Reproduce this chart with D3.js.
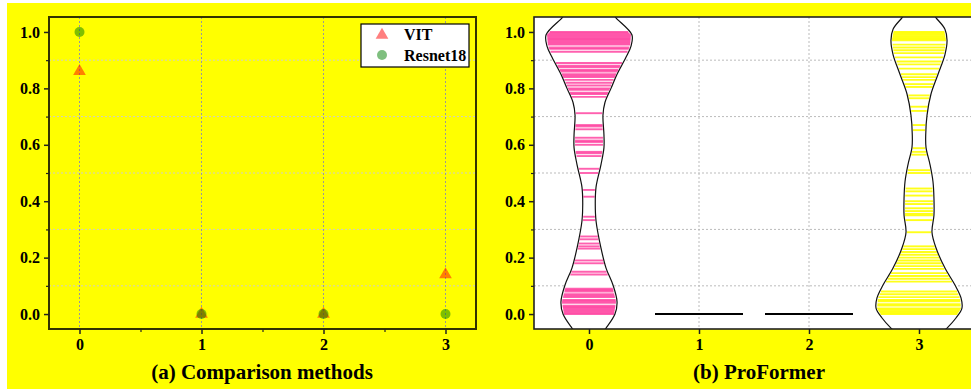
<!DOCTYPE html>
<html>
<head>
<meta charset="utf-8">
<script src="https://cdn.jsdelivr.net/npm/d3@7"></script>
<style>
  body { margin: 0; background: #fff; }
  svg { display: block; }
  text { font-family: "Liberation Serif", "Times New Roman", serif; font-weight: bold; fill: #000; }
</style>
</head>
<body>
<div id="chart"></div>
<script>
// ---- data ----
const categories = [0, 1, 2, 3];
const vitValues = [0.86, 0, 0, 0.14];
const resnetValues = [1.0, 0, 0, 0];
const yTicks = [0, 0.2, 0.4, 0.6, 0.8, 1.0];
const yMinor = [0.1, 0.3, 0.5, 0.7, 0.9];
const xMinor = [0.5, 1.5, 2.5];

// ProFormer sample values (the sticks) per category
const proformer0 = [1.0, 0.995, 0.99, 0.985, 0.98, 0.975, 0.97, 0.965, 0.96, 0.955, 0.945, 0.94, 0.93,
  0.89, 0.88, 0.875, 0.865, 0.86, 0.85, 0.845, 0.84, 0.83, 0.82, 0.81, 0.8, 0.795, 0.785, 0.78, 0.77,
  0.712, 0.67, 0.665, 0.655, 0.625, 0.615, 0.61, 0.6, 0.575, 0.57, 0.56, 0.515, 0.5, 0.44, 0.416,
  0.345, 0.333, 0.275, 0.265, 0.25, 0.24, 0.232, 0.19, 0.18, 0.15, 0.14,
  0.09, 0.085, 0.08, 0.07, 0.065, 0.06, 0.05, 0.045, 0.04, 0.03, 0.025, 0.02, 0.015, 0.01, 0.005, 0.0];
const proformer1 = [0, 0, 0, 0];
const proformer2 = [0, 0, 0, 0];
const proformer3 = [1.0, 0.995, 0.99, 0.985, 0.98, 0.975, 0.97, 0.955, 0.945, 0.935, 0.925, 0.91, 0.895,
  0.885, 0.87, 0.85, 0.84, 0.83, 0.815, 0.805, 0.775, 0.765, 0.735, 0.72, 0.67, 0.652, 0.588, 0.575, 0.565,
  0.51, 0.5, 0.445, 0.435, 0.42, 0.4, 0.39, 0.375, 0.365, 0.355, 0.35, 0.333, 0.29, 0.24, 0.23, 0.22, 0.21,
  0.2, 0.19, 0.18, 0.17, 0.16, 0.145, 0.135, 0.125, 0.115, 0.08, 0.07, 0.06, 0.05, 0.045, 0.035, 0.03,
  0.02, 0.015, 0.01, 0.005, 0.0];

// violin outlines: [value, half width in category units]
const profile0 = [[-0.06, 0.136], [-0.05, 0.155], [0.0, 0.236], [0.043, 0.255], [0.103, 0.218], [0.163, 0.155],
  [0.234, 0.109], [0.33, 0.064], [0.39, 0.057], [0.45, 0.064], [0.53, 0.109], [0.59, 0.136], [0.635, 0.136],
  [0.705, 0.127], [0.75, 0.145], [0.8, 0.2], [0.85, 0.255], [0.91, 0.336], [0.95, 0.382], [0.99, 0.39],
  [1.05, 0.245], [1.06, 0.227]];
const profile3 = [[-0.06, 0.227], [-0.05, 0.255], [-0.014, 0.336], [0.02, 0.39], [0.057, 0.382], [0.103, 0.327],
  [0.163, 0.236], [0.234, 0.155], [0.29, 0.118], [0.35, 0.136], [0.41, 0.136], [0.47, 0.127], [0.53, 0.1],
  [0.59, 0.064], [0.635, 0.061], [0.705, 0.073], [0.78, 0.109], [0.85, 0.173], [0.92, 0.236], [0.97, 0.255],
  [1.01, 0.236], [1.05, 0.155], [1.06, 0.136]];

const W = 971, H = 389;
const svg = d3.select("#chart").append("svg").attr("width", W).attr("height", H);
svg.append("rect").attr("x", 7).attr("y", 3).attr("width", W - 7).attr("height", H - 3).attr("fill", "#ffff00");

const plotTop = 17, plotBottom = 329;
const y = d3.scaleLinear().domain([-0.053, 1.053]).range([plotBottom, plotTop]);

function yAxes(g, x0) {
  g.append("g").attr("transform", `translate(${x0},0)`)
    .call(d3.axisLeft(y).tickValues(yTicks).tickFormat(d3.format(".1f")).tickSize(5).tickPadding(4))
    .call(a => a.select(".domain").remove())
    .call(a => a.selectAll("text").style("font-size", "16px"))
    .call(a => a.selectAll("line").attr("stroke", "#222").attr("stroke-width", 1.5));
  g.append("g").attr("transform", `translate(${x0},0)`)
    .call(d3.axisLeft(y).tickValues(yMinor).tickFormat("").tickSize(3))
    .call(a => a.select(".domain").remove())
    .call(a => a.selectAll("line").attr("stroke", "#222").attr("stroke-width", 1.2));
}

// ---------------- (a) Comparison methods ----------------
const xL = d3.scaleLinear().domain([-0.25, 3.25]).range([49, 476]);
const gA = svg.append("g");

gA.selectAll(".hgrid").data(yMinor).join("line")
  .attr("x1", 49).attr("x2", 476).attr("y1", d => y(d)).attr("y2", d => y(d))
  .attr("stroke", "#cccccc").attr("stroke-dasharray", "2,2");
gA.selectAll(".vgrid").data(categories).join("line")
  .attr("x1", d => xL(d)).attr("x2", d => xL(d)).attr("y1", plotTop).attr("y2", plotBottom)
  .attr("stroke", "#999").attr("stroke-dasharray", "2,2");

const tri = d3.symbol().type(d3.symbolTriangle).size(70);
gA.selectAll(".vit").data(vitValues).join("path")
  .attr("d", tri).attr("transform", (d, i) => `translate(${xL(categories[i])},${y(d)})`)
  .attr("fill", "rgba(255,0,0,0.5)");
gA.selectAll(".res").data(resnetValues).join("circle")
  .attr("cx", (d, i) => xL(categories[i])).attr("cy", d => y(d)).attr("r", 5)
  .attr("fill", "rgba(0,128,0,0.5)");

gA.append("rect").attr("x", 49).attr("y", plotTop).attr("width", 476 - 49).attr("height", plotBottom - plotTop)
  .attr("fill", "none").attr("stroke", "#333300").attr("stroke-width", 2);
yAxes(gA, 49);
gA.append("g").attr("transform", `translate(0,${plotBottom})`)
  .call(d3.axisBottom(xL).tickValues(categories).tickFormat(d3.format("d")).tickSize(5).tickPadding(5))
  .call(a => a.select(".domain").remove())
  .call(a => a.selectAll("text").style("font-size", "16px"))
  .call(a => a.selectAll("line").attr("stroke", "#222").attr("stroke-width", 1.5));
gA.append("g").attr("transform", `translate(0,${plotBottom})`)
  .call(d3.axisBottom(xL).tickValues(xMinor).tickFormat("").tickSize(3))
  .call(a => a.select(".domain").remove())
  .call(a => a.selectAll("line").attr("stroke", "#222").attr("stroke-width", 1.2));

// legend
const leg = gA.append("g").attr("transform", "translate(361,24)");
leg.append("rect").attr("width", 108).attr("height", 43).attr("fill", "#fff").attr("stroke", "#000").attr("stroke-width", 1.2);
leg.append("path").attr("d", tri).attr("transform", "translate(21,11)").attr("fill", "rgba(255,0,0,0.5)");
leg.append("circle").attr("cx", 21).attr("cy", 31).attr("r", 5).attr("fill", "rgba(0,128,0,0.5)");
leg.append("text").attr("x", 43).attr("y", 16).style("font-size", "16px").text("VIT");
leg.append("text").attr("x", 43).attr("y", 36.5).style("font-size", "16px").text("Resnet18");

svg.append("text").attr("x", 262).attr("y", 379).attr("text-anchor", "middle")
  .style("font-size", "21px").text("(a) Comparison methods");

// ---------------- (b) ProFormer ----------------
const xR = d3.scaleLinear().domain([-0.5, 3.5]).range([534, 974]);
const gB = svg.append("g");
gB.append("rect").attr("x", 534).attr("y", plotTop).attr("width", 974 - 534).attr("height", plotBottom - plotTop).attr("fill", "#fff");
svg.append("clipPath").attr("id", "clipB").append("rect")
  .attr("x", 534).attr("y", plotTop).attr("width", 974 - 534).attr("height", plotBottom - plotTop);

gB.selectAll(".hgrid").data(yMinor).join("line")
  .attr("x1", 534).attr("x2", 974).attr("y1", d => y(d)).attr("y2", d => y(d))
  .attr("stroke", "#bbb").attr("stroke-dasharray", "2,2");
gB.selectAll(".vgrid").data(categories).join("line")
  .attr("x1", d => xR(d)).attr("x2", d => xR(d)).attr("y1", plotTop).attr("y2", plotBottom)
  .attr("stroke", "#bbb").attr("stroke-dasharray", "2,2");

const violins = [
  { cat: 0, values: proformer0, profile: profile0, color: "#ff3399", alpha: 0.78 },
  { cat: 1, values: proformer1, profile: null },
  { cat: 2, values: proformer2, profile: null },
  { cat: 3, values: proformer3, profile: profile3, color: "#ffff00", alpha: 0.9 }
];

const vg = gB.append("g").attr("clip-path", "url(#clipB)");
violins.forEach(v => {
  if (!v.profile) {
    // all values identical: collapsed violin drawn as a flat line
    vg.append("line").attr("x1", xR(v.cat - 0.4)).attr("x2", xR(v.cat + 0.4))
      .attr("y1", y(v.values[0])).attr("y2", y(v.values[0]))
      .attr("stroke", "#000").attr("stroke-width", 2);
    return;
  }
  const wAt = d3.scaleLinear().domain(v.profile.map(d => d[0])).range(v.profile.map(d => d[1]));
  const area = d3.area()
    .y(d => y(d[0]))
    .x0(d => xR(v.cat - d[1]))
    .x1(d => xR(v.cat + d[1]))
    .curve(d3.curveCatmullRom);
  vg.append("path").attr("d", area(v.profile)).attr("fill", "#fff");
  vg.selectAll(null).data(v.values).join("line")
    .attr("x1", d => xR(v.cat - wAt(d)) + 1).attr("x2", d => xR(v.cat + wAt(d)) - 1)
    .attr("y1", d => y(d)).attr("y2", d => y(d))
    .attr("stroke", v.color).attr("stroke-opacity", v.alpha).attr("stroke-width", 1.9);
  const outline = d3.line().y(d => y(d[0])).curve(d3.curveCatmullRom);
  vg.append("path").attr("d", outline.x(d => xR(v.cat - d[1]))(v.profile))
    .attr("fill", "none").attr("stroke", "#111").attr("stroke-width", 1.2);
  vg.append("path").attr("d", outline.x(d => xR(v.cat + d[1]))(v.profile))
    .attr("fill", "none").attr("stroke", "#111").attr("stroke-width", 1.2);
});

gB.append("rect").attr("x", 534).attr("y", plotTop).attr("width", 974 - 534).attr("height", plotBottom - plotTop)
  .attr("fill", "none").attr("stroke", "#222").attr("stroke-width", 1.6);
yAxes(gB, 534);
gB.append("g").attr("transform", `translate(0,${plotBottom})`)
  .call(d3.axisBottom(xR).tickValues(categories).tickFormat(d3.format("d")).tickSize(5).tickPadding(5))
  .call(a => a.select(".domain").remove())
  .call(a => a.selectAll("text").style("font-size", "16px"))
  .call(a => a.selectAll("line").attr("stroke", "#222").attr("stroke-width", 1.5));

svg.append("text").attr("x", 759).attr("y", 379).attr("text-anchor", "middle")
  .style("font-size", "21px").text("(b) ProFormer");
</script>
</body>
</html>
